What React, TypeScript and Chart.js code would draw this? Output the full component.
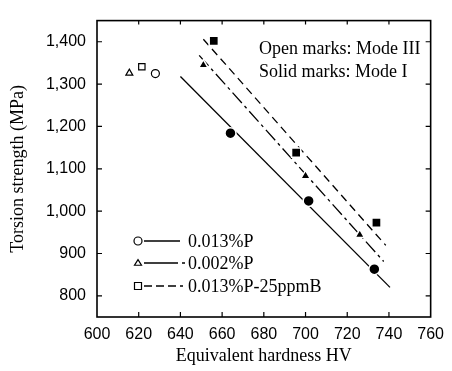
import React, { useEffect, useRef } from "react";
import { Chart, registerables } from "chart.js";

Chart.register(...registerables);

// ---- data ----
const xTicks = [600, 620, 640, 660, 680, 700, 720, 740, 760];
const yTicks = [800, 900, 1000, 1100, 1200, 1300, 1400];
const xMin = 600;
const xMax = 760;
const yMin = 750;
const yMax = 1450;

// Mode III (open marks)
const open013P = [{ x: 628, y: 1325 }];
const open002P = [{ x: 615.5, y: 1326 }];
const open25B = [{ x: 621.5, y: 1341 }];

// Mode I (solid marks)
const solid013P = [
  { x: 664, y: 1184 },
  { x: 701.5, y: 1024 },
  { x: 733, y: 863 },
];
const solid002P = [
  { x: 651, y: 1345 },
  { x: 700, y: 1083 },
  { x: 726, y: 944 },
];
const solid25B = [
  { x: 656, y: 1402 },
  { x: 695.5, y: 1138 },
  { x: 734, y: 973 },
];

// fitted lines
const fit013P = [
  { x: 640, y: 1318 },
  { x: 740.5, y: 820 },
];
const fit002P = [
  { x: 649, y: 1368 },
  { x: 737.5, y: 881 },
];
const fit25B = [
  { x: 651, y: 1406 },
  { x: 738.5, y: 919 },
];

const legendLabels = ["0.013%P", "0.002%P", "0.013%P-25ppmB"];
const noteLines = ["Open marks: Mode III", "Solid marks: Mode I"];
const xTitle = "Equivalent hardness HV";
const yTitle = "Torsion strength (MPa)";

const SERIF = "'Liberation Serif', 'Times New Roman', serif";
const SANS = "'Liberation Sans', Arial, sans-serif";

const DASH_SOLID: number[] = [];
const DASH_DASHDOT = [14, 4, 3, 4];
const DASH_DASHED = [8, 5];

function drawMarker(ctx: CanvasRenderingContext2D, kind: string, x: number, y: number, r: number) {
  ctx.beginPath();
  if (kind === "circle") {
    ctx.arc(x, y, r, 0, Math.PI * 2);
  } else if (kind === "triangle") {
    const h = r * 1.6;
    ctx.moveTo(x, y - h * 0.6);
    ctx.lineTo(x + r, y + h * 0.4);
    ctx.lineTo(x - r, y + h * 0.4);
    ctx.closePath();
  } else {
    ctx.rect(x - r, y - r, 2 * r, 2 * r);
  }
  ctx.fillStyle = "#fff";
  ctx.fill();
  ctx.strokeStyle = "#000";
  ctx.lineWidth = 1.2;
  ctx.stroke();
}

const framePlugin = {
  id: "framePlugin",
  afterDraw(chart: any) {
    const { ctx, chartArea, scales } = chart;
    const { left, right, top, bottom } = chartArea;
    ctx.save();
    // frame
    ctx.strokeStyle = "#000";
    ctx.lineWidth = 1.6;
    ctx.setLineDash([]);
    ctx.strokeRect(left, top, right - left, bottom - top);
    // inward ticks
    ctx.lineWidth = 1.2;
    const tl = 5;
    xTicks.forEach((v) => {
      const px = scales.x.getPixelForValue(v);
      if (px <= left + 1 || px >= right - 1) return;
      ctx.beginPath();
      ctx.moveTo(px, bottom);
      ctx.lineTo(px, bottom - tl);
      ctx.moveTo(px, top);
      ctx.lineTo(px, top + tl - 1);
      ctx.stroke();
    });
    yTicks.forEach((v) => {
      const py = scales.y.getPixelForValue(v);
      ctx.beginPath();
      ctx.moveTo(left, py);
      ctx.lineTo(left + tl, py);
      ctx.moveTo(right, py);
      ctx.lineTo(right - tl, py);
      ctx.stroke();
    });

    // notes
    ctx.fillStyle = "#000";
    ctx.font = `18px ${SERIF}`;
    ctx.textAlign = "left";
    ctx.textBaseline = "alphabetic";
    noteLines.forEach((t, i) => {
      ctx.fillText(t, left + 162, top + 33 + i * 23);
    });

    // legend
    const kinds = ["circle", "triangle", "square"];
    const dashes = [DASH_SOLID, [34, 4, 3, 20], [8, 4, 8, 4, 8, 4, 3, 20]];
    const rowsY = [bottom - 76, bottom - 54, bottom - 31];
    const mx = left + 41;
    kinds.forEach((k, i) => {
      const y = rowsY[i];
      ctx.strokeStyle = "#000";
      ctx.lineWidth = 1.3;
      ctx.setLineDash(dashes[i]);
      ctx.beginPath();
      ctx.moveTo(mx + 6, y);
      ctx.lineTo(i === 0 ? mx + 42 : mx + 47, y);
      ctx.stroke();
      ctx.setLineDash([]);
      drawMarker(ctx, k, mx, y, k === "circle" ? 4 : 3.5);
      ctx.fillStyle = "#000";
      ctx.font = `18px ${SERIF}`;
      ctx.textBaseline = "alphabetic";
      ctx.fillText(legendLabels[i], left + 91, y + 6);
    });
    ctx.restore();
  },
};

function App() {
  const ref = useRef<HTMLCanvasElement | null>(null);
  useEffect(() => {
    if (!ref.current) return;
    const solidPoint = (pointStyle: string, r: number) => ({
      type: "scatter" as const,
      pointStyle,
      pointRadius: r,
      backgroundColor: "#000",
      borderColor: "#fff",
      borderWidth: 1.5,
      showLine: false,
    });
    const openPoint = (pointStyle: string, r: number) => ({
      type: "scatter" as const,
      pointStyle,
      pointRadius: r,
      backgroundColor: "#fff",
      borderColor: "#000",
      borderWidth: 1.2,
      showLine: false,
    });
    const fitLine = (dash: number[]) => ({
      type: "line" as const,
      borderColor: "#000",
      borderWidth: 1.3,
      borderDash: dash,
      pointRadius: 0,
      fill: false,
      tension: 0,
    });
    const chart = new Chart(ref.current, {
      type: "scatter",
      data: {
        datasets: [
          { ...solidPoint("circle", 5.5), data: solid013P },
          { ...solidPoint("triangle", 5.5), data: solid002P },
          { ...solidPoint("rect", 6.5), data: solid25B },
          { ...openPoint("circle", 4), data: open013P },
          { ...openPoint("triangle", 4), data: open002P },
          { ...openPoint("rect", 4.5), data: open25B },
          { ...fitLine(DASH_SOLID), data: fit013P },
          { ...fitLine(DASH_DASHDOT), data: fit002P },
          { ...fitLine(DASH_DASHED), data: fit25B },
        ] as any,
      },
      options: {
        animation: false,
        responsive: false,
        maintainAspectRatio: false,
        layout: { padding: { left: 0, top: 15, right: 17, bottom: 0 } },
        plugins: { legend: { display: false }, tooltip: { enabled: false } },
        scales: {
          x: {
            type: "linear",
            min: xMin,
            max: xMax,
            afterBuildTicks: (s: any) => {
              s.ticks = xTicks.map((v) => ({ value: v }));
            },
            afterFit: (s: any) => {
              s.height = 54;
            },
            grid: { display: false, drawTicks: false },
            border: { display: false },
            ticks: {
              color: "#000",
              font: { family: SANS, size: 16 },
              padding: 8,
              maxRotation: 0,
              autoSkip: false,
            },
            title: {
              display: true,
              text: xTitle,
              color: "#000",
              font: { family: SERIF, size: 18 },
              padding: { top: 0, bottom: 4 },
            },
          },
          y: {
            type: "linear",
            min: yMin,
            max: yMax,
            afterBuildTicks: (s: any) => {
              s.ticks = yTicks.map((v) => ({ value: v }));
            },
            afterFit: (s: any) => {
              s.width = 97;
            },
            grid: { display: false, drawTicks: false },
            border: { display: false },
            ticks: {
              color: "#000",
              font: { family: SANS, size: 16 },
              padding: 11,
              autoSkip: false,
              callback: (v: any) => Number(v).toLocaleString("en-US"),
            },
            title: {
              display: true,
              text: yTitle,
              color: "#000",
              font: { family: SERIF, size: 18 },
              padding: { top: 7, bottom: 0 },
            },
          },
        },
      },
      plugins: [framePlugin],
    });
    return () => chart.destroy();
  }, []);
  return (
    <div style={{ position: "fixed", left: 0, top: 0, width: 452, height: 371, background: "#fff" }}>
      <canvas ref={ref} width={452} height={371} style={{ width: 452, height: 371, display: "block" }} />
    </div>
  );
}

export default App;
